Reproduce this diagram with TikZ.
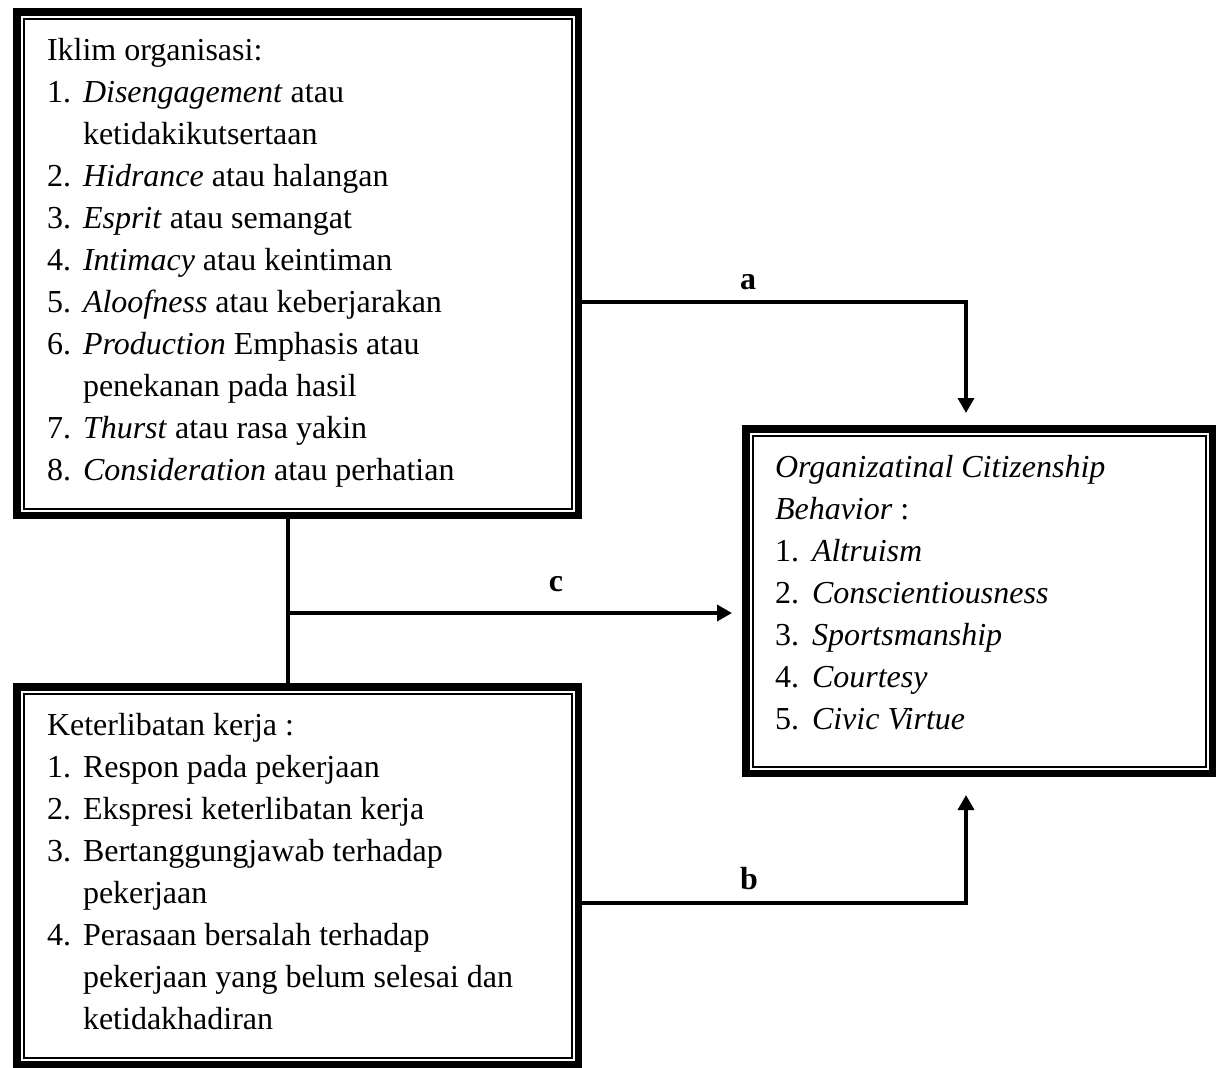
\documentclass[tikz,border=0pt]{standalone}
\usepackage{fontspec}
\setmainfont{Liberation Serif}
\usetikzlibrary{arrows.meta,calc}
\begin{document}
\begin{tikzpicture}[x=1pt,y=-1pt,
  frame/.style={draw, rectangle, line width=7.5pt, outer sep=3.75pt, inner sep=0pt},
  innerline/.style={line width=2pt},
  txt/.style={anchor=base west, inner sep=0pt, outer sep=0pt, font=\fontsize{32pt}{42pt}\selectfont},
  lab/.style={anchor=base, inner sep=0pt, outer sep=0pt, font=\fontsize{32pt}{42pt}\selectfont\bfseries},
  conn/.style={line width=3.5pt},
  arr/.style={conn, -{Triangle[length=15pt,width=16pt]}}
]
\useasboundingbox (0,0) rectangle (1216,1068);
\newcommand{\numA}[1]{\makebox[36pt][l]{#1}}
\newcommand{\numC}[1]{\makebox[37pt][l]{#1}}

% boxes
\node[frame, minimum width=561.5pt, minimum height=503.5pt] (A) at (297.5,263.5) {};
\node[frame, minimum width=561.5pt, minimum height=377.5pt] (B) at (297.5,875.5) {};
\node[frame, minimum width=466.5pt, minimum height=344.5pt] (C) at (979,601) {};
\foreach \b in {A,B,C}{
  \draw[innerline] ($(\b.north west)+(10.5,10.5)$) rectangle ($(\b.south east)+(-10.5,-10.5)$);
}

% text of box A
\node[txt] (a0) at (47,60) {Iklim organisasi:};
\node[txt] (a1) at (47,102) {\numA{1.}\textit{Disengagement} atau};
\node[txt] (a1b) at (83,144) {ketidakikutsertaan};
\node[txt] (a2) at (47,186) {\numA{2.}\textit{Hidrance} atau halangan};
\node[txt] (a3) at (47,228) {\numA{3.}\textit{Esprit} atau semangat};
\node[txt] (a4) at (47,270) {\numA{4.}\textit{Intimacy} atau keintiman};
\node[txt] (a5) at (47,312) {\numA{5.}\textit{Aloofness} atau keberjarakan};
\node[txt] (a6) at (47,354) {\numA{6.}\textit{Production} Emphasis atau};
\node[txt] (a6b) at (83,396) {penekanan pada hasil};
\node[txt] (a7) at (47,438) {\numA{7.}\textit{Thurst} atau rasa yakin};
\node[txt] (a8) at (47,480) {\numA{8.}\textit{Consideration} atau perhatian};

% text of box B
\node[txt] (b0) at (47,735) {Keterlibatan kerja :};
\node[txt] (b1) at (47,777) {\numA{1.}Respon pada pekerjaan};
\node[txt] (b2) at (47,819) {\numA{2.}Ekspresi keterlibatan kerja};
\node[txt] (b3) at (47,861) {\numA{3.}Bertanggungjawab terhadap};
\node[txt] (b3b) at (83,903) {pekerjaan};
\node[txt] (b4) at (47,945) {\numA{4.}Perasaan bersalah terhadap};
\node[txt] (b4b) at (83,987) {pekerjaan yang belum selesai dan};
\node[txt] (b4c) at (83,1029) {ketidakhadiran};

% text of box C
\node[txt] (c0) at (775,477) {\textit{Organizatinal Citizenship}};
\node[txt] (c0b) at (775,519) {\textit{Behavior} :};
\node[txt] (c1) at (775,561) {\numC{1.}\textit{Altruism}};
\node[txt] (c2) at (775,603) {\numC{2.}\textit{Conscientiousness}};
\node[txt] (c3) at (775,645) {\numC{3.}\textit{Sportsmanship}};
\node[txt] (c4) at (775,687) {\numC{4.}\textit{Courtesy}};
\node[txt] (c5) at (775,729) {\numC{5.}\textit{Civic Virtue}};

% connectors
\coordinate (J) at (288,613);
\draw[arr, shorten >=12pt] (A.east |- 0,302) -| ($(C.north west)+(224,0)$);
\draw[conn] (A.south -| J) -- (B.north -| J);
\draw[arr, shorten >=10pt] (J) -- (C.west |- J);
\draw[arr, shorten >=18pt] (B.east |- 0,903) -| ($(C.south west)+(224,0)$);

% labels
\node[lab] (la) at (748,289) {a};
\node[lab] (lc) at (556,591) {c};
\node[lab] (lb) at (749,889) {b};
\end{tikzpicture}
\end{document}
